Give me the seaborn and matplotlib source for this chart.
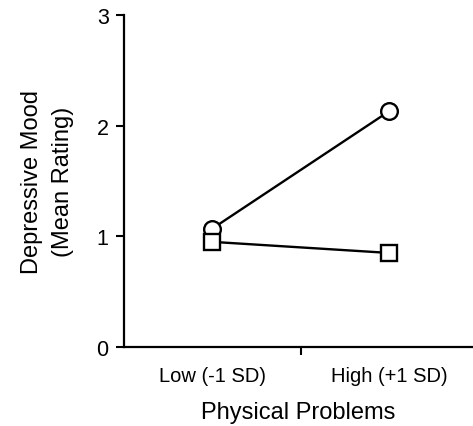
import matplotlib
matplotlib.use("Agg")
import matplotlib.pyplot as plt
from matplotlib.ticker import FixedLocator
import seaborn as sns
import pandas as pd

levels = ["Low (-1 SD)", "High (+1 SD)"]
circle_values = [1.07, 2.13]
square_values = [0.95, 0.85]
y_ticks = [0, 1, 2, 3]
x_label = "Physical Problems"
y_label = "Depressive Mood\n(Mean Rating)"

sns.set_theme(style="ticks")
plt.rcParams["font.family"] = ["Liberation Sans", "DejaVu Sans"]

fig = plt.figure(figsize=(4.73, 4.27), dpi=100)
ax = fig.add_axes([124 / 473, 1 - 348 / 427, 1 - 124 / 473, (348 - 16) / 427])

df_c = pd.DataFrame({"level": levels, "value": circle_values})
df_s = pd.DataFrame({"level": levels, "value": square_values})

sns.lineplot(data=df_c, x="level", y="value", ax=ax, color="black", lw=1.7,
             marker="o", markersize=12, markerfacecolor="white",
             markeredgecolor="black", markeredgewidth=1.7, zorder=3, sort=False)
sns.lineplot(data=df_s, x="level", y="value", ax=ax, color="black", lw=1.7,
             marker="s", markersize=11.5, markerfacecolor="white",
             markeredgecolor="black", markeredgewidth=1.7, zorder=4, sort=False)

ax.set_xlim(-0.5, 1.475)
ax.set_ylim(0, 3)
ax.set_yticks(y_ticks)
ax.set_yticklabels([str(t) for t in y_ticks])
ax.set_xticks([0, 1])
ax.set_xticklabels(levels)
ax.xaxis.set_minor_locator(FixedLocator([0.5]))
ax.tick_params(axis="x", which="major", length=0, pad=14, labelsize=14.5, colors="black")
ax.tick_params(axis="x", which="minor", length=6, width=1.5, direction="out", color="black")
ax.tick_params(axis="y", which="major", length=6, width=1.5, direction="out",
               pad=5, labelsize=15.5, colors="black")

for s in ["top", "right"]:
    ax.spines[s].set_visible(False)
for s in ["left", "bottom"]:
    ax.spines[s].set_linewidth(1.6)
    ax.spines[s].set_color("black")

ax.set_xlabel(x_label, fontsize=17, labelpad=11, color="black")
ax.set_ylabel(y_label, fontsize=17, labelpad=16, color="black", linespacing=1.55)

leg = ax.get_legend()
if leg is not None:
    leg.remove()

fig.savefig("out.png", dpi=100)
